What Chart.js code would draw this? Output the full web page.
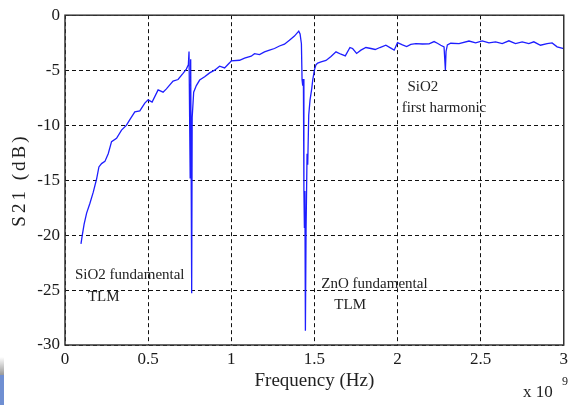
<!DOCTYPE html>
<html>
<head>
<meta charset="utf-8">
<script src="https://cdn.jsdelivr.net/npm/chart.js@4/dist/chart.umd.min.js"></script>
<style>
html,body{margin:0;padding:0;background:#fff;}
#wrap{position:relative;width:572px;height:405px;}
#g1{position:absolute;left:0;top:357px;width:4px;height:18px;background:linear-gradient(#fff,#999);}
#g2{position:absolute;left:0;top:375px;width:4px;height:30px;background:#6f8fd2;}
</style>
</head>
<body>
<div id="wrap">
<canvas id="c" width="572" height="405"></canvas>
<div id="g1"></div><div id="g2"></div>
</div>
<script>
// Frequency in units of 1e9 Hz
const freqGHz = [
0.096,0.104,0.115,0.13,0.15,0.17,0.19,0.204,0.22,0.24,0.26,0.28,0.31,0.34,0.37,0.39,0.42,0.45,0.48,0.50,
0.524,0.56,0.59,0.61,0.65,0.68,0.71,0.73,0.742,0.746,0.750,0.753,0.756,0.759,0.762,0.765,0.774,0.79,0.81,
0.84,0.87,0.90,0.93,0.96,0.99,1.00,1.05,1.08,1.12,1.14,1.17,1.20,1.23,1.26,1.29,1.32,1.35,1.38,1.406,1.414,
1.422,1.426,1.430,1.434,1.437,1.440,1.443,1.446,1.450,1.456,1.460,1.466,1.474,1.484,1.49,1.50,1.51,1.52,1.54,
1.57,1.60,1.63,1.66,1.686,1.714,1.73,1.754,1.78,1.81,1.84,1.866,1.894,1.93,1.96,1.98,2.0,2.03,2.055,2.08,
2.11,2.15,2.19,2.22,2.24,2.26,2.28,2.288,2.292,2.30,2.32,2.37,2.43,2.47,2.51,2.55,2.59,2.63,2.67,2.71,2.75,
2.79,2.82,2.86,2.90,2.93,2.96,3.0];
const s21dB = [
-20.8,-20.0,-19.0,-18.0,-17.1,-16.1,-14.9,-13.8,-13.5,-13.3,-12.6,-11.5,-11.2,-10.45,-10.0,-9.5,-8.8,-8.7,-8.0,-7.7,
-7.9,-6.8,-7.0,-6.7,-6.0,-5.85,-5.3,-4.9,-4.5,-3.3,-3.3,-14.8,-4.0,-14.8,-25.3,-9.3,-7.0,-6.4,-5.9,
-5.6,-5.25,-5.0,-4.64,-4.8,-4.33,-4.15,-4.1,-3.9,-3.73,-3.5,-3.58,-3.33,-3.18,-3.03,-2.8,-2.64,-2.27,-1.9,-1.45,-1.7,
-2.6,-5.9,-6.4,-5.8,-15.9,-19.3,-16.0,-28.7,-19.5,-12.6,-13.6,-9.1,-7.7,-6.7,-5.9,-5.0,-4.5,-4.35,-4.24,
-4.12,-3.75,-3.33,-3.55,-3.7,-2.94,-3.03,-3.48,-3.18,-2.94,-3.03,-3.12,-2.94,-2.73,-3.0,-3.18,-2.5,-2.7,-2.85,-2.65,
-2.58,-2.62,-2.6,-2.4,-2.55,-2.73,-2.88,-5.0,-3.3,-2.7,-2.55,-2.58,-2.35,-2.52,-2.33,-2.52,-2.42,-2.58,-2.33,-2.58,-2.42,
-2.58,-2.42,-2.73,-2.58,-2.52,-2.88,-3.03];
const xTicks = [0,0.5,1,1.5,2,2.5,3];
const yTicks = [-30,-25,-20,-15,-10,-5,0];
const xTitle = 'Frequency (Hz)';
const yTitle = 'S21 (dB)';
const noteTexts = ['SiO2 fundamental','TLM','ZnO fundamental','TLM','SiO2','first harmonic'];

const SERIF = "'Liberation Serif','Times New Roman',serif";

const extras = {
  id:'extras',
  afterDraw(chart){
    const ctx = chart.ctx, a = chart.chartArea;
    const xs = chart.scales.x, ys = chart.scales.y;
    ctx.save();
    ctx.strokeStyle = '#333';
    ctx.lineWidth = 1.5;
    ctx.setLineDash([]);
    ctx.strokeRect(a.left, a.top, a.right - a.left, a.bottom - a.top);
    // annotations (data coordinates)
    const pos = [[0.06,-23.6],[0.138,-25.6],[1.542,-24.5],[1.62,-26.4],[2.06,-6.55],[2.025,-8.45]];
    ctx.fillStyle = '#222';
    ctx.font = '15px ' + SERIF;
    ctx.textAlign = 'left';
    ctx.textBaseline = 'middle';
    noteTexts.forEach((t,i)=>{
      ctx.fillText(t, xs.getPixelForValue(pos[i][0]), ys.getPixelForValue(pos[i][1]));
    });
    // x title
    ctx.font = '19px ' + SERIF;
    ctx.textAlign = 'center';
    ctx.fillText(xTitle, (a.left + a.right)/2, 381);
    // y title
    ctx.save();
    ctx.translate(20, (a.top + a.bottom)/2);
    ctx.rotate(-Math.PI/2);
    ctx.font = '19px ' + SERIF;
    try { ctx.letterSpacing = '3px'; } catch(e) {}
    ctx.textAlign = 'center';
    ctx.fillText(yTitle, 0, 0);
    ctx.restore();
    // exponent
    ctx.font = '17px ' + SERIF;
    ctx.textAlign = 'left';
    ctx.textBaseline = 'alphabetic';
    ctx.fillText('x 10', 523, 397);
    ctx.font = '12px ' + SERIF;
    ctx.fillText('9', 562, 385);
    ctx.restore();
  }
};

new Chart(document.getElementById('c'), {
  type:'line',
  data:{
    datasets:[{
      data: freqGHz.map((f,i)=>({x:f, y:s21dB[i]})),
      borderColor:'rgb(30,30,255)',
      borderWidth:1.3,
      pointRadius:0,
      tension:0,
      fill:false
    }]
  },
  options:{
    responsive:false,
    animation:false,
    events:[],
    layout:{padding:{left:0,top:15,right:7,bottom:0}},
    plugins:{legend:{display:false},tooltip:{enabled:false}},
    scales:{
      x:{
        type:'linear', min:0, max:3,
        afterBuildTicks(s){ s.ticks = xTicks.map(v=>({value:v})); },
        afterFit(s){ s.height = 60; },
        ticks:{ padding:4, color:'#1a1a1a', font:{family:SERIF, size:17}, maxRotation:0,
          callback:(v)=>String(v) },
        grid:{ color:'#111', lineWidth:1, drawTicks:false },
        border:{ display:false, dash:[4,3] }
      },
      y:{
        type:'linear', min:-30, max:0,
        afterBuildTicks(s){ s.ticks = yTicks.map(v=>({value:v})); },
        afterFit(s){ s.width = 65; },
        ticks:{ padding:5, color:'#1a1a1a', font:{family:SERIF, size:17},
          callback:(v)=>String(v) },
        grid:{ color:'#111', lineWidth:1, drawTicks:false },
        border:{ display:false, dash:[4,3] }
      }
    }
  },
  plugins:[extras]
});
</script>
</body>
</html>
